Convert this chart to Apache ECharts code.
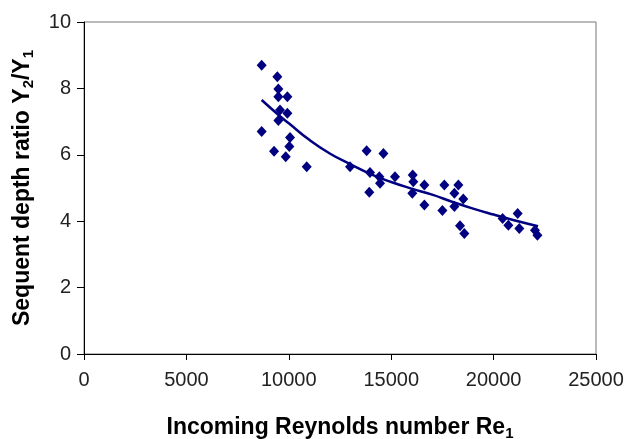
<!DOCTYPE html>
<html>
<head>
<meta charset="utf-8">
<script src="https://cdn.jsdelivr.net/npm/echarts@6/dist/echarts.min.js"></script>
<style>
  html, body { margin: 0; padding: 0; background: #fff; }
  #chart { width: 626px; height: 439px; }
</style>
</head>
<body>
<div id="chart"></div>
<script>
// measured points (Re1, Y2/Y1)
const reynolds = [
  8675, 9440, 9490, 9490, 9930, 9570, 9930, 9490, 8675, 10060,
  10025, 9280, 9850, 10875, 12990, 13800, 14620, 13965, 14420, 15185,
  16050, 14455, 16080, 16620, 17595, 18280, 13930, 16030, 18085, 18520,
  16620, 18085, 17500, 18360, 18570, 20440, 20720, 21175, 21255, 22020,
  22140
];
const depthRatio = [
  8.70, 8.35, 7.98, 7.75, 7.75, 7.35, 7.25, 7.03, 6.70, 6.52,
  6.25, 6.11, 5.94, 5.64, 5.64, 6.12, 6.04, 5.47, 5.34, 5.34,
  5.39, 5.14, 5.19, 5.09, 5.09, 5.09, 4.87, 4.84, 4.84, 4.67,
  4.49, 4.44, 4.32, 3.86, 3.63, 4.08, 3.88, 4.23, 3.78, 3.73,
  3.58
];
// trendline
const trendX = [8675, 9500, 10000, 11000, 12000, 13000, 14000, 15000, 16000, 17000, 18000, 19000, 20000, 21000, 22170];
const trendY = [7.65, 7.2, 6.95, 6.45, 6.04, 5.72, 5.42, 5.18, 4.98, 4.80, 4.58, 4.38, 4.2, 4.03, 3.85];

const xTicks = [0, 5000, 10000, 15000, 20000, 25000];
const yTicks = [0, 2, 4, 6, 8, 10];

const navy = '#000080';
const font = 'Liberation Sans, Arial, sans-serif';

const nameRich = {
  t: { fontFamily: font, fontSize: 23, fontWeight: 'bold', color: '#000' },
  s: { fontFamily: font, fontSize: 15, fontWeight: 'bold', color: '#000', padding: [12, 0, 0, 0] }
};

const chart = echarts.init(document.getElementById('chart'));
chart.setOption({
  animation: false,
  grid: {
    left: 84, right: 30, top: 22, bottom: 85,
    outerBoundsMode: 'none',
    containLabel: false,
    show: true, borderColor: '#777', borderWidth: 1
  },
  xAxis: {
    type: 'value',
    min: xTicks[0], max: xTicks[xTicks.length - 1], interval: 5000,
    axisLine: { show: true, onZero: false, lineStyle: { color: '#000', width: 1 } },
    axisTick: { show: true, inside: false, length: 6, lineStyle: { color: '#000' } },
    splitLine: { show: false },
    axisLabel: { color: '#222', fontFamily: font, fontSize: 20, margin: 16, formatter: v => String(v) },
    name: '{t|Incoming Reynolds number Re}{s|1}',
    nameLocation: 'middle',
    nameGap: 60,
    nameTextStyle: { rich: nameRich }
  },
  yAxis: {
    type: 'value',
    min: yTicks[0], max: yTicks[yTicks.length - 1], interval: 2,
    axisLine: { show: true, lineStyle: { color: '#000', width: 1 } },
    axisTick: { show: true, inside: false, length: 7, lineStyle: { color: '#000' } },
    splitLine: { show: false },
    axisLabel: { color: '#222', fontFamily: font, fontSize: 20, margin: 13 },
    name: '{t|Sequent depth ratio Y}{s|2}{t|/Y}{s|1}',
    nameLocation: 'middle',
    nameGap: 48,
    nameTextStyle: { rich: nameRich }
  },
  series: [
    {
      type: 'line',
      data: trendX.map((x, i) => [x, trendY[i]]),
      smooth: true,
      showSymbol: false,
      lineStyle: { color: navy, width: 2.5 },
      z: 2
    },
    {
      type: 'scatter',
      data: reynolds.map((x, i) => [x, depthRatio[i]]),
      symbol: 'diamond',
      symbolSize: [10, 11],
      itemStyle: { color: navy, opacity: 1 },
      z: 3
    }
  ]
});
</script>
</body>
</html>
